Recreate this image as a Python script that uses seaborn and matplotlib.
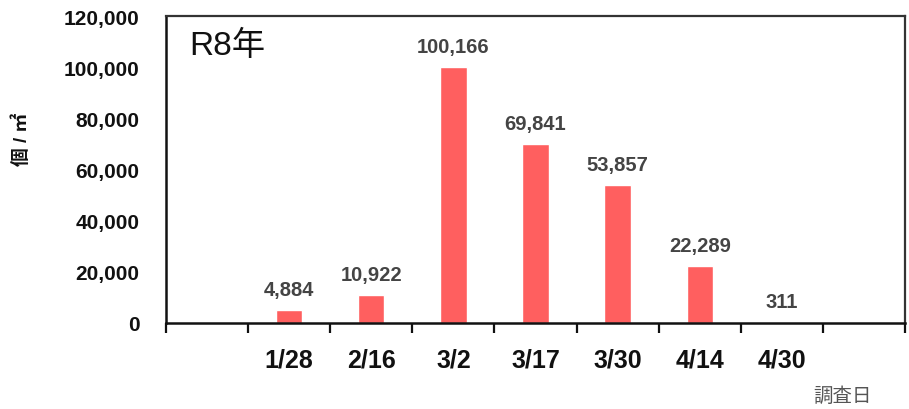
import matplotlib
matplotlib.use("Agg")
import matplotlib.pyplot as plt
import seaborn as sns
import pandas as pd
import numpy as np

# Survey dates and counts per square metre
dates = ["1/28", "2/16", "3/2", "3/17", "3/30", "4/14", "4/30"]
counts = [4884, 10922, 100166, 69841, 53857, 22289, 311]
y_ticks = [0, 20000, 40000, 60000, 80000, 100000, 120000]

sns.set_theme(style="white")
plt.rcParams["font.family"] = ["Liberation Sans", "Noto Sans CJK JP", "DejaVu Sans"]

df = pd.DataFrame({"date": dates, "count": counts})

fig = plt.figure(figsize=(9.09, 4.10), dpi=100)
ax = fig.add_axes([0.1826, 0.2098, 0.8130, 0.7487])

sns.barplot(data=df, x="date", y="count", color="#ff5f5f", width=0.32,
            saturation=1, ax=ax, order=dates)

ax.set_xlim(-1.5, len(dates) + 0.5)
ax.set_ylim(0, 120000)
ax.set_yticks(y_ticks)
ax.set_yticklabels([f"{v:,}" for v in y_ticks], fontsize=15,
                   fontweight="bold", color="#111111")
ax.tick_params(axis="y", length=0, pad=19)

# category labels centred, boundary ticks between slots
ax.set_xticks(range(len(dates)))
ax.set_xticklabels(dates, fontsize=18, fontweight="bold", color="#111111")
ax.tick_params(axis="x", which="major", length=0, pad=18)
ax.set_xticks(np.arange(-1.5, len(dates) + 0.6, 1.0), minor=True)
ax.tick_params(axis="x", which="minor", direction="out", length=7,
               width=1.6, color="#111111", bottom=True)

for side in ["left", "bottom"]:
    ax.spines[side].set_color("#111111")
    ax.spines[side].set_linewidth(1.8)
for side in ["top", "right"]:
    ax.spines[side].set_color("#333333")
    ax.spines[side].set_linewidth(1.6)
    ax.spines[side].set_visible(True)

# value labels above each bar
for i, v in enumerate(counts):
    ax.annotate(f"{v:,}", (i, v), xytext=(0, 8), textcoords="offset points",
                ha="center", va="bottom", fontsize=14.5, fontweight="bold",
                color="#444444")

ax.set_xlabel("")
ax.set_ylabel("")
fig.text(0.024, 0.66, "個 / ㎡", rotation=90, ha="center", va="center",
         fontsize=13.5, fontweight="bold", color="#111111")
ax.text(0.031, 0.905, "R8年", transform=ax.transAxes, ha="left", va="center",
        fontsize=24, color="#111111")
fig.text(0.927, 0.032, "調査日", ha="center", va="center", fontsize=14,
         color="#555555")

fig.savefig("out.png", dpi=100, facecolor="white")
